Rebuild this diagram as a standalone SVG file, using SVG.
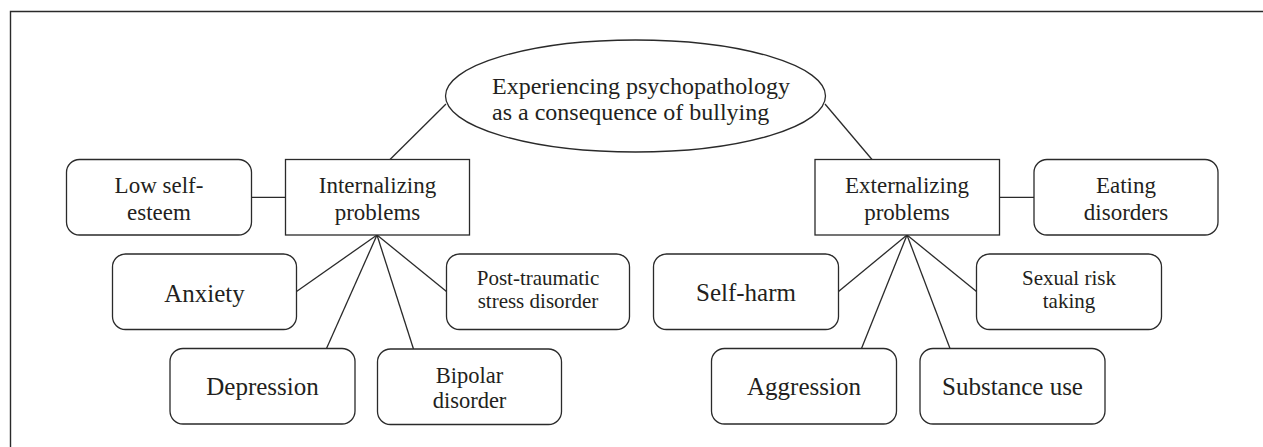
<svg xmlns="http://www.w3.org/2000/svg" width="1263" height="447" viewBox="0 0 1263 447">
<style>
.bg{fill:#ffffff}
.frame{fill:none;stroke:#2a2a2a;stroke-width:1.4}
.box{fill:#ffffff;stroke:#2a2a2a;stroke-width:1.3}
.conn line{stroke:#2a2a2a;stroke-width:1.3}
text{font-family:"Liberation Serif","Times New Roman",serif;fill:#231f20;text-anchor:middle}
.t25{font-size:25px}
.t23{font-size:23px}
.t22{font-size:22.5px}
.t21{font-size:21px}
.t24{font-size:24px;text-anchor:start}
</style>
<rect class="bg" x="0" y="0" width="1263" height="447"/>
<path class="frame" d="M10.5,447 V11.5 H1263"/>
<g id="connectors" class="conn">
<line x1="446" y1="104" x2="390" y2="159.5"/>
<line x1="825" y1="104" x2="872" y2="159.5"/>
<line x1="251.5" y1="197.3" x2="285.5" y2="197.3"/>
<line x1="999.5" y1="197.3" x2="1034" y2="197.3"/>
<line x1="377" y1="235" x2="296.5" y2="291.5"/>
<line x1="377" y1="235" x2="446.5" y2="291.5"/>
<line x1="377" y1="235" x2="326.5" y2="348.5"/>
<line x1="377" y1="235" x2="413.5" y2="349"/>
<line x1="907" y1="235" x2="838.5" y2="291.5"/>
<line x1="907" y1="235" x2="976.5" y2="291.5"/>
<line x1="907" y1="235" x2="861.5" y2="348.5"/>
<line x1="907" y1="235" x2="950" y2="348.5"/>
</g>
<g id="root">
<ellipse class="box" cx="635.5" cy="96" rx="190" ry="56"/>
<text class="t24" x="492" y="94">Experiencing psychopathology</text>
<text class="t24" x="492" y="120">as a consequence of bullying</text>
</g>
<g id="low-self-esteem">
<rect class="box" x="66.5" y="159.5" width="185" height="75.5" rx="13"/>
<text class="t23" x="159" y="193.3">Low self-</text>
<text class="t23" x="159" y="220">esteem</text>
</g>
<g id="internalizing">
<rect class="box" x="285.5" y="159.5" width="184" height="75.5"/>
<text class="t23" x="377.5" y="193.3">Internalizing</text>
<text class="t23" x="377.5" y="220">problems</text>
</g>
<g id="anxiety">
<rect class="box" x="112.5" y="254" width="184" height="75.5" rx="13"/>
<text class="t25" x="204.5" y="301.5">Anxiety</text>
</g>
<g id="ptsd">
<rect class="box" x="446.5" y="254" width="183" height="75.5" rx="13"/>
<text class="t21" x="538" y="285">Post-traumatic</text>
<text class="t21" x="538" y="308.3">stress disorder</text>
</g>
<g id="depression">
<rect class="box" x="170" y="348.5" width="185" height="75.5" rx="13"/>
<text class="t25" x="262.5" y="395">Depression</text>
</g>
<g id="bipolar">
<rect class="box" x="377.5" y="349" width="184" height="75.5" rx="13"/>
<text class="t22" x="469.5" y="383.3">Bipolar</text>
<text class="t22" x="469.5" y="408.3">disorder</text>
</g>
<g id="externalizing">
<rect class="box" x="815" y="159.5" width="184.5" height="75.5"/>
<text class="t23" x="907" y="193.3">Externalizing</text>
<text class="t23" x="907" y="220">problems</text>
</g>
<g id="eating-disorders">
<rect class="box" x="1034" y="159.5" width="184" height="75.5" rx="13"/>
<text class="t23" x="1126" y="193.3">Eating</text>
<text class="t23" x="1126" y="220">disorders</text>
</g>
<g id="self-harm">
<rect class="box" x="653.5" y="254" width="185" height="75.5" rx="13"/>
<text class="t25" x="746" y="300.5">Self-harm</text>
</g>
<g id="sexual-risk">
<rect class="box" x="976.5" y="254" width="185" height="75.5" rx="13"/>
<text class="t21" x="1069" y="285">Sexual risk</text>
<text class="t21" x="1069" y="308">taking</text>
</g>
<g id="aggression">
<rect class="box" x="711.5" y="348.5" width="185" height="75.5" rx="13"/>
<text class="t25" x="804" y="395">Aggression</text>
</g>
<g id="substance-use">
<rect class="box" x="920" y="348.5" width="185" height="75.5" rx="13"/>
<text class="t25" x="1012.5" y="395">Substance use</text>
</g>
</svg>
